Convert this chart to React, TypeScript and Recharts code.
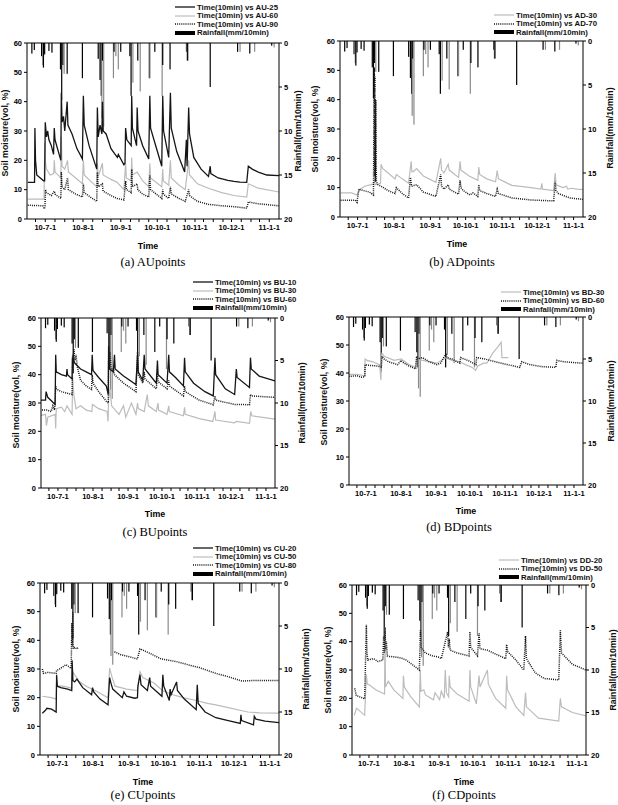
import { ComposedChart, Line, Bar, XAxis, YAxis, ReferenceLine } from 'recharts';

type Pt = [number, number | null];

// day index: 2010-06-01 = 0
const MONTH_TICKS = [30, 61, 92, 122, 153, 183, 214];
const MONTH_LABELS = ['10-7-1', '10-8-1', '10-9-1', '10-10-1', '10-11-1', '10-12-1', '11-1-1'];
const MINOR_TICKS = [22, 38, 46, 53, 69, 77, 84, 100, 107, 115, 130, 138, 145, 160, 168, 176, 191, 199, 206];
const SM_TICKS = [0, 10, 20, 30, 40, 50, 60];
const RAIN_TICKS = [0, 5, 10, 15, 20];

const rainBlack: Pt[] = [
  [19, 1.2], [21, 0.8], [27, 1.5], [28.5, 2.8], [29.5, 1.3], [33, 0.9], [35.5, 1.1], [42.5, 3], [43.5, 6.5],
  [44.5, 2.5], [48, 3.5], [60.5, 4], [73.5, 1.8], [75, 4.2], [76, 6], [77, 2], [86.5, 1], [92, 1], [99.5, 1.5],
  [100.5, 6], [106, 2], [115.5, 4], [120, 1], [126.5, 2.5], [132.5, 3], [146, 1], [147, 2], [165.5, 5],
  [188, 1], [198, 1.2], [216, 0.3],
];
const rainGray: Pt[] = [
  [28, 2.5], [45.5, 3.5], [76.5, 8.5], [78, 9.5], [86, 4], [88, 1.5], [90, 3], [102, 4.5], [108, 5.5],
  [116, 4], [126, 6], [146.5, 2], [190, 1], [202, 1], [218, 0.5],
];

const AU25: Pt[] = [
  [15.6, 12.5], [21.2, 12.5], [21.5, 31], [22, 20], [23, 15], [28.6, 13], [29.5, 13], [30, 33], [31, 28], [32, 30],
  [33, 27], [35, 25], [36.8, 22], [37.4, 31], [38, 27], [42.8, 20], [43.2, 43], [43.8, 33], [45, 35], [46, 30],
  [48, 40], [48.6, 32], [52, 29], [56, 24], [60.5, 20.5], [61.3, 42], [62, 32], [66, 25], [72.3, 17], [72.8, 38],
  [73.5, 28], [75, 32], [76.5, 29], [77, 40], [77.6, 30], [80, 29], [84, 24], [89.2, 21], [90, 22], [94.6, 18.5],
  [95.5, 19], [96, 31], [97, 27], [100.6, 25], [101, 42], [101.6, 31], [105, 25], [105.5, 38], [106.2, 30],
  [110, 25], [115, 20.5], [115.9, 42], [116.5, 31], [120, 26], [125.7, 18], [126.5, 42], [127.2, 30], [131.4, 21],
  [132.8, 43], [133.5, 31], [138, 23], [144.5, 16], [145.9, 27], [146.5, 18], [147.8, 38], [148.5, 29], [152, 21],
  [158, 17], [164.1, 14.5], [165.5, 18], [166, 15.5], [172, 14], [180, 13.2], [185, 12.8], [190, 12.6],
  [195.5, 12.5], [196.8, 18], [200, 17], [205, 16], [212, 15], [222, 14.8],
];
const AU60: Pt[] = [
  [15.6, 6.8], [29, 6.8], [29.6, 26], [30.2, 19], [31, 17], [34, 15], [37, 15.5], [37.4, 20], [38, 16], [42.8, 14],
  [43.2, 28], [43.8, 18], [46, 17], [48.3, 20], [49, 16], [55, 14], [60.5, 12], [61.3, 20], [62, 15], [67, 13],
  [72.3, 11], [72.8, 19], [73.5, 14.5], [76.9, 19], [77.5, 15], [84, 13.5], [89, 12.5], [94.6, 10], [96, 19],
  [96.6, 14], [100.6, 13], [101, 21], [101.6, 15], [105.5, 16], [110, 13], [115, 11], [115.9, 19], [116.5, 14],
  [125.7, 11], [126.5, 17], [127, 13], [131.4, 11.5], [132.8, 20], [133.5, 14], [140, 11.5], [145, 10],
  [147.8, 20], [148.5, 15], [155, 12], [164, 10.5], [175, 9], [185, 8], [195.5, 7.5], [196.8, 12], [205, 10.5],
  [222, 9.2],
];
const AU90: Pt[] = [
  [15.6, 4.7], [28, 4.5], [29.3, 3.5], [29.8, 4.5], [30.2, 10], [31, 9], [35, 8], [37.4, 9.5], [38, 8.5],
  [42.8, 7], [43.2, 16], [43.8, 11], [46, 10], [48.3, 14], [49, 10], [55, 8.5], [60.5, 7.5], [61.3, 12], [62, 9],
  [67, 7.5], [72.3, 6], [72.8, 16], [73.5, 11], [76.9, 12], [77.5, 9.5], [84, 8], [89, 7], [94.6, 6.5], [96, 13],
  [96.6, 10], [100.6, 9], [101, 17], [101.6, 11], [105.5, 12], [106, 10], [110, 8.5], [115, 7.5], [115.9, 15],
  [116.5, 10], [125.7, 7], [126.5, 10], [127, 8.5], [131.4, 7], [132.8, 11], [133.5, 8.5], [140, 7], [145, 6],
  [147.8, 10], [148.5, 8], [155, 6], [164, 5], [175, 4.5], [185, 4.2], [195.5, 3.7], [196.8, 5.8], [205, 5.2],
  [222, 4.5],
];

const AD30: Pt[] = [
  [15.5, 8.2], [25, 8.2], [29.5, 7.5], [32.2, 9.5], [36, 10.5], [43, 11.2], [44.6, 12], [45, 11], [49.5, 11.5],
  [50, 18], [51.4, 16.5], [56, 15], [61.9, 13], [63, 14.5], [68, 13], [73.4, 11.5], [75.6, 19], [76.2, 15.5],
  [77.5, 15.5], [80.3, 16.5], [86, 14], [96.7, 11.8], [100.8, 20], [101.5, 16], [103.6, 15], [107.2, 18],
  [108, 16], [116, 13.5], [117.3, 19], [118, 16], [125, 14], [132.4, 12.5], [133.2, 17], [134, 14.5], [140, 13],
  [147.5, 12], [148.9, 15.8], [150, 13], [161.3, 10.8], [177.7, 10], [186, 9.5], [187, 11.5], [187.5, 9.5],
  [197, 9], [198.3, 15], [199, 11], [205, 10], [208, 10.5], [209, 9.5], [212, 9.8], [217, 9.5], [222, 9.3],
];
const AD70: Pt[] = [
  [15.5, 5.7], [28, 5.7], [29.5, 5], [31, 9.5], [35, 9], [40, 8.5], [43.5, 7.5], [44.2, 51], [44.5, 14],
  [44.8, 48], [45.1, 12], [45.5, 40], [46, 12], [47.3, 11], [50, 10.5], [56, 9], [61.9, 8], [63, 10], [68, 8],
  [73.4, 6.5], [75, 13.5], [76, 10.5], [80.3, 11], [86, 8.5], [96.7, 7], [100.8, 14.5], [101.5, 10.5],
  [103.6, 9.5], [107.2, 11], [108, 9.5], [116, 7.8], [117.3, 12.5], [118, 10], [120, 9], [125.6, 7.5],
  [128.3, 8.2], [132.4, 7], [133.2, 11], [134, 9], [140, 8], [147.5, 7], [148.9, 9.5], [150, 8], [161.3, 6.5],
  [177.7, 5.8], [190, 5.6], [197, 5.5], [198.3, 12], [199, 9], [201, 8], [210.7, 6.5], [222, 6],
];

const BU10: Pt[] = [
  [14, 31], [19, 31], [19.5, 34], [21, 32], [27.5, 29.5], [28, 47], [28.5, 41], [33, 40], [37.5, 39.5], [38, 42],
  [38.5, 40], [42.5, 38.5], [42.8, 46], [45, 44], [50, 42], [55, 41], [59.7, 40], [60.3, 47], [61, 41.5],
  [66, 39], [72.8, 36], [74.5, 33], [74.8, 50], [75.5, 42], [79, 41], [80, 47], [80.6, 42], [88, 39.5],
  [99, 36.5], [100.4, 47], [101, 41], [105, 38], [106.3, 47], [107, 42], [117, 37], [118, 45], [118.6, 40],
  [126.5, 37], [128, 47], [128.6, 41], [134, 39], [141, 36], [142, 46], [142.6, 41], [150, 37], [160, 34],
  [167.4, 32.5], [168.9, 46], [169.5, 40], [178, 35], [186.3, 33], [187.8, 42], [188.5, 39], [199.4, 35.5],
  [200.3, 46], [201, 42], [208, 39.5], [222, 37.8],
];
const BU30: Pt[] = [
  [14, 25.5], [19, 26], [19.8, 22], [21, 25], [27.5, 26], [28, 21], [28.5, 28], [33, 28.5], [36, 27], [38, 29],
  [42.5, 26], [43, 39], [44, 33], [46, 28], [50, 29], [55, 27.5], [60, 27], [60.5, 29.5], [66, 28], [73.5, 27],
  [74.3, 23.5], [74.8, 31], [76, 35], [77.5, 29], [84, 26], [88, 29], [90, 25], [95, 30], [99, 26], [100.4, 30],
  [101, 28], [106.3, 27], [109, 33], [110, 29], [117, 27], [118.5, 30], [119, 27.5], [126.5, 26], [128, 29],
  [128.5, 27], [141, 25.5], [142, 28.5], [142.6, 26], [155, 24.5], [167, 23.5], [168.9, 27], [169.5, 24],
  [186, 23], [188, 23.5], [199.5, 22.8], [200.5, 27], [201.5, 25.5], [222, 24.3],
];
const BU60: Pt[] = [
  [14, 27.5], [20, 27.5], [24, 27], [25.5, 29], [27, 27.5], [28, 36], [28.5, 35], [33, 34], [42.5, 33], [43, 47],
  [43.5, 44], [44, 49], [45, 45], [46, 47], [47, 43], [50, 38], [55, 36], [59.7, 34.8], [60.3, 40], [61, 37],
  [66, 34], [72.8, 30.6], [74.5, 30], [74.8, 45], [75.5, 43], [76, 48], [77, 42], [79, 42], [80, 40], [88, 37],
  [99, 34], [100.4, 48], [101, 40], [105, 37], [106.3, 41], [107, 38.5], [117, 35], [118, 40], [118.6, 37.5],
  [126.5, 35], [128, 38], [128.6, 36], [141, 32.5], [142, 36], [142.6, 34], [155, 31], [167.4, 29.4],
  [168.9, 32.5], [169.5, 31], [186, 29.5], [199.4, 29.4], [200.3, 33], [201, 32.5], [222, 32],
];

const BD30: Pt[] = [
  [14.7, 39.5], [22, 39.5], [29, 39], [29.2, 45], [31, 44.5], [36, 44], [42, 43], [43.3, 37.5], [43.6, 46],
  [44.2, 47], [46, 46], [55, 44.5], [61, 45], [68, 43], [74, 42], [74.8, 45], [80, 44.5], [92.7, 43.5],
  [100.8, 45.5], [106, 44.5], [113, 44], [118, 43], [124, 42], [127, 41], [129, 42.5], [134, 43.5],
  [137, 43.5], [142, 47], [147, 49.5], [149.6, 51], [150.3, 45.5], [156, 45.5],
];
const BD60: Pt[] = [
  [14.7, 38.8], [22, 39], [26, 38.5], [29, 38.7], [29.2, 43], [31, 42.8], [40, 42.5], [43.6, 42.2], [44.2, 46],
  [46, 45], [50, 44], [58, 43], [61, 44.5], [62, 44], [68, 42.5], [74, 41.5], [74.8, 46], [76, 45], [80, 45.5],
  [86, 44], [92.7, 43], [96, 43.5], [100.8, 47], [101.5, 45.5], [106, 45], [113, 43.5], [113.8, 45.5],
  [120, 44.5], [127.3, 43], [128, 45.5], [135, 45], [145, 44], [155, 43], [166, 42], [167.8, 44], [175, 43],
  [185, 42.3], [198, 42], [198.8, 44.5], [205, 44], [222, 43.5],
];

const CU20: Pt[] = [
  [17, 14.6], [19.5, 15.5], [21, 16.3], [25, 16], [29, 15], [29.4, 28], [30, 24], [33, 23.5], [39, 23],
  [42.5, 22.5], [42.8, 33], [43.5, 26], [45, 25.5], [47, 26.5], [52, 23.5], [59.7, 21], [60.5, 23.5],
  [61.5, 22], [67, 19.5], [73.9, 17.5], [75.3, 27], [76.5, 25], [78, 23], [86.3, 20], [87.7, 22], [90, 20.5],
  [97, 19.8], [99.4, 20], [99.8, 24], [101.6, 28], [102.5, 24.5], [108, 22.5], [110, 27], [110.8, 24],
  [120.6, 20.5], [121.4, 28], [122.2, 24], [127, 19], [127.7, 23], [128.5, 21], [133.3, 25.5], [134, 22.5],
  [140, 19.5], [150.3, 15.8], [151.2, 24.5], [152, 18], [158, 15], [167.3, 13], [178, 12], [188.5, 11],
  [189, 14], [189.6, 12], [199.9, 10.5], [200.6, 13.5], [202, 12.5], [210, 11.8], [222, 11.3],
];
const CU50: Pt[] = [
  [17, 20.5], [25, 20], [29, 19.5], [29.4, 26], [30, 24], [35, 24], [42.5, 23.3], [43.5, 29], [45, 28],
  [49, 25.6], [55, 24], [65, 22], [73.9, 20], [75.3, 30.3], [77.5, 27], [80, 24], [90, 23], [99.4, 22.5],
  [101.6, 29], [104, 27], [114, 25], [121, 22.5], [130, 21], [139, 20], [150.3, 19], [160, 18], [167.3, 17.5],
  [178, 16.5], [195, 15], [205, 14.7], [222, 14.6],
];
const CU80: Pt[] = [
  [17, 30], [18, 28.5], [22, 28.8], [29, 28.5], [29.4, 29.5], [32, 30], [37.5, 31.5], [42, 30.2], [42.6, 46],
  [43, 38], [43.4, 50], [43.8, 37], [45, 37.5], [47, 37], [48, 37.5], [48.5, null], [79.5, 36], [85, 35],
  [92, 34.3], [99.4, 33.5], [101.6, 37], [110, 35.5], [120, 33.5], [133, 32.6], [143, 31.5], [153, 30.5],
  [167, 28.5], [178, 27.3], [190, 25.8], [200, 26], [222, 26],
];

const DD20: Pt[] = [
  [17, 14], [19, 16.5], [20, 16.2], [26.2, 14], [27.7, 28.5], [28.5, 25], [30.5, 24.7], [36, 23], [43.8, 21.5],
  [44.2, 45], [44.6, 24], [47, 26], [52, 23], [60, 20], [60.5, 28], [61.3, 24], [67, 20.5], [74.6, 17],
  [75.4, 30], [76, 22.5], [78.5, 23], [80, 21.2], [87, 19.5], [88.5, 22], [92.5, 19.5], [94, 22.5], [96.6, 20],
  [97.5, 30], [98.5, 22], [100.5, 20.5], [101, 28], [101.8, 24], [108, 21.5], [118.6, 19], [119.3, 30],
  [120, 24], [125, 18], [127.4, 28], [128.2, 24], [134.8, 30], [135.6, 25], [142, 20], [151, 16.5], [151.8, 28],
  [152.6, 23], [160, 17], [167, 14], [168.5, 22], [169.3, 17], [180, 13], [197.9, 12], [199.3, 20],
  [200.3, 17], [210, 15], [222, 13.8],
];
const DD50: Pt[] = [
  [17.4, 23.5], [18.8, 21], [22, 20.5], [26.2, 19.8], [27.7, 46], [28.2, 36], [29, 33.5], [34, 34], [38, 33],
  [42.3, 33.5], [43, 42], [43.6, 36], [44.2, 45], [44.8, 37], [45.4, 40], [46.2, 35], [48, 34.8], [55, 34.5],
  [60, 34], [63, 33.5], [68, 32], [74.6, 30], [75.5, 44], [76, 38], [80, 36], [86, 35], [92.2, 34.5], [94, 34],
  [99.6, 43.5], [100.3, 38], [101, 41], [101.8, 37], [108, 36], [118.6, 35], [119.3, 43.5], [120, 38],
  [126, 35], [127.4, 43], [128.2, 37.5], [134.8, 37], [140, 36], [151, 34], [151.8, 39], [152.6, 36.5],
  [160, 33.5], [167, 30], [168.5, 42], [169.3, 34], [177, 29], [185, 27], [197.9, 26.5], [199.3, 44],
  [200.3, 36], [210, 32], [222, 30],
];

const rows = (pts: Pt[]) => pts.map(([d, v]) => ({ d, v }));

// one rain table: value plus which gauge list it came from
const rainRows = [
  ...rainBlack.map(([d, v]) => ({ d, r: v ?? 0, src: 'b' })),
  ...rainGray.map(([d, v]) => ({ d, r: v ?? 0, src: 'g' })),
].sort((a, b) => a.d - b.d);

const RAIN_FILL: Record<string, string> = { b: '#000', g: '#8a8a8a' };

const RainBar = (props: any) => {
  const { x, y, width, height, payload } = props;
  if (x == null || !height) return null;
  const top = height < 0 ? y + height : y;
  return <rect x={x + width / 2 - 0.6} y={top} width={1.2} height={Math.abs(height)} fill={RAIN_FILL[payload.src]} />;
};

const ALL_TICKS = [...MONTH_TICKS, ...MINOR_TICKS].sort((a, b) => a - b);
const fmtX = (v: number) => {
  const i = MONTH_TICKS.indexOf(v);
  return i >= 0 ? MONTH_LABELS[i] : '';
};

type Kind = 'black' | 'gray' | 'dot';
interface Series { name: string; data: Pt[]; kind: Kind }
interface PanelDef {
  box: [number, number, number, number]; // x0, y0, x1, y1 of plot area
  series: Series[];
  legend: [number, number]; // symbol x, first row y
  time: [number, number];
  caption: [string, number, number];
  left: [number, number];
  right: [number, number];
}

const SANS = '"Liberation Sans", Arial, sans-serif';
const LINE_STYLE: Record<Kind, { stroke: string; strokeWidth: number; strokeDasharray?: string }> = {
  black: { stroke: '#151515', strokeWidth: 1.3 },
  gray: { stroke: '#bcbcbc', strokeWidth: 1.2 },
  dot: { stroke: '#151515', strokeWidth: 1.5, strokeDasharray: '1 1.1' },
};

const panels: PanelDef[] = [
  {
    box: [27, 43, 279, 219],
    series: [
      { name: 'Time(10min) vs AU-25', data: AU25, kind: 'black' },
      { name: 'Time(10min) vs AU-60', data: AU60, kind: 'gray' },
      { name: 'Time(10min) vs AU-90', data: AU90, kind: 'dot' },
    ],
    legend: [175, 7], time: [148, 246], caption: ['(a) AUpoints', 153, 262], left: [5, 133], right: [298, 131],
  },
  {
    box: [340, 41, 583, 217],
    series: [
      { name: 'Time(10min) vs AD-30', data: AD30, kind: 'gray' },
      { name: 'Time(10min) vs AD-70', data: AD70, kind: 'dot' },
    ],
    legend: [494, 15], time: [457, 244], caption: ['(b) ADpoints', 462, 262], left: [315, 129], right: [610, 128],
  },
  {
    box: [41, 318, 275, 488],
    series: [
      { name: 'Time(10min) vs BU-10', data: BU10, kind: 'black' },
      { name: 'Time(10min) vs BU-30', data: BU30, kind: 'gray' },
      { name: 'Time(10min) vs BU-60', data: BU60, kind: 'dot' },
    ],
    legend: [193, 282], time: [155, 514], caption: ['(c) BUpoints', 155, 532], left: [16, 405], right: [302, 403],
  },
  {
    box: [349, 317, 583, 485],
    series: [
      { name: 'Time(10min) vs BD-30', data: BD30, kind: 'gray' },
      { name: 'Time(10min) vs BD-60', data: BD60, kind: 'dot' },
    ],
    legend: [501, 292], time: [466, 511], caption: ['(d) BDpoints', 459, 527], left: [324, 402], right: [611, 401],
  },
  {
    box: [40, 583, 279, 755],
    series: [
      { name: 'Time(10min) vs CU-20', data: CU20, kind: 'black' },
      { name: 'Time(10min) vs CU-50', data: CU50, kind: 'gray' },
      { name: 'Time(10min) vs CU-80', data: CU80, kind: 'dot' },
    ],
    legend: [193, 548], time: [143, 782], caption: ['(e) CUpoints', 143, 795], left: [16, 669], right: [306, 669],
  },
  {
    box: [352, 585, 586, 755],
    series: [
      { name: 'Time(10min) vs DD-20', data: DD20, kind: 'gray' },
      { name: 'Time(10min) vs DD-50', data: DD50, kind: 'dot' },
    ],
    legend: [499, 560], time: [464, 782], caption: ['(f) CDpoints', 464, 795], left: [328, 670], right: [613, 670],
  },
];

const PADL = 30;
const PADR = 30;
const PADT = 4;
const AXH = 22;
const tick = { fill: '#000', fontSize: 7.5, fontWeight: 700, fontFamily: SANS };

function RotLabel({ text, x, y }: { text: string; x: number; y: number }) {
  return (
    <div
      style={{
        position: 'absolute', left: x, top: y, transform: 'translate(-50%, -50%) rotate(-90deg)',
        whiteSpace: 'nowrap', fontFamily: SANS, fontSize: 8.8, fontWeight: 700, color: '#111',
      }}
    >
      {text}
    </div>
  );
}

function Legend({ items, x, y }: { items: Series[]; x: number; y: number }) {
  const all = [...items.map((s) => ({ name: s.name, kind: s.kind as Kind | 'rain' })), { name: 'Rainfall(mm/10min)', kind: 'rain' as const }];
  return (
    <>
      {all.map((it, i) => {
        const top = y + i * 8.6;
        const st = it.kind === 'rain' ? null : LINE_STYLE[it.kind];
        return (
          <div key={it.name} style={{ position: 'absolute', left: x, top: top - 4, height: 8, display: 'flex', alignItems: 'center' }}>
            <svg width={20} height={8} style={{ display: 'block' }}>
              {st ? (
                <line x1={0} y1={4} x2={20} y2={4} stroke={st.stroke} strokeWidth={st.strokeWidth} strokeDasharray={st.strokeDasharray} />
              ) : (
                <rect x={0} y={2} width={20} height={4} fill="#000" />
              )}
            </svg>
            <span style={{ marginLeft: 2, fontFamily: SANS, fontSize: 7.8, fontWeight: 700, color: '#111', whiteSpace: 'nowrap' }}>{it.name}</span>
          </div>
        );
      })}
    </>
  );
}

function Panel({ p }: { p: PanelDef }) {
  const [x0, y0, x1, y1] = p.box;
  const w = x1 - x0;
  const h = y1 - y0;
  return (
    <>
      <div style={{ position: 'absolute', left: x0 - PADL, top: y0 - PADT }}>
        <ComposedChart width={w + PADL + PADR} height={h + PADT + AXH} data={rainRows} margin={{ top: PADT, right: 0, bottom: 0, left: 0 }}>
          <XAxis
            type="number" dataKey="d" domain={[15, 222]} allowDataOverflow ticks={ALL_TICKS} interval={0}
            tickFormatter={fmtX} height={AXH} tick={tick} tickSize={3} tickMargin={3} stroke="#000"
          />
          <YAxis
            yAxisId="sm" domain={[0, 60]} ticks={SM_TICKS} interval={0} width={PADL} tick={tick}
            tickSize={3} tickMargin={2} stroke="#000" allowDataOverflow
          />
          <YAxis
            yAxisId="rain" orientation="right" reversed domain={[0, 20]} ticks={RAIN_TICKS} interval={0}
            width={PADR} tick={tick} tickSize={3} tickMargin={2} stroke="#000" allowDataOverflow
          />
          <ReferenceLine yAxisId="sm" y={60} stroke="#000" strokeWidth={1} />
          <Bar yAxisId="rain" dataKey="r" shape={RainBar} isAnimationActive={false} />
          {[...p.series].sort((a, b) => (a.kind === 'gray' ? -1 : 0) - (b.kind === 'gray' ? -1 : 0)).map((s) => (
            <Line
              key={s.name} yAxisId="sm" data={rows(s.data)} dataKey="v" type="linear" dot={false}
              activeDot={false} isAnimationActive={false} {...LINE_STYLE[s.kind]}
            />
          ))}
        </ComposedChart>
      </div>
      <Legend items={p.series} x={p.legend[0]} y={p.legend[1]} />
      <div style={{ position: 'absolute', left: p.time[0], top: p.time[1], transform: 'translate(-50%, -50%)', fontFamily: SANS, fontSize: 8.8, fontWeight: 700 }}>
        Time
      </div>
      <div
        style={{
          position: 'absolute', left: p.caption[1], top: p.caption[2], transform: 'translate(-50%, -50%)',
          fontFamily: '"Liberation Serif", "Times New Roman", serif', fontSize: 12.5, whiteSpace: 'nowrap',
        }}
      >
        {p.caption[0]}
      </div>
      <RotLabel text="Soil moisture(vol, %)" x={p.left[0]} y={p.left[1]} />
      <RotLabel text="Rainfall(mm/10min)" x={p.right[0]} y={p.right[1]} />
    </>
  );
}

export default function App() {
  return (
    <div style={{ position: 'relative', width: 618, height: 805, background: '#fff', overflow: 'hidden' }}>
      <style>{'body{margin:0}'}</style>
      {panels.map((p) => (
        <Panel key={p.caption[0]} p={p} />
      ))}
    </div>
  );
}
